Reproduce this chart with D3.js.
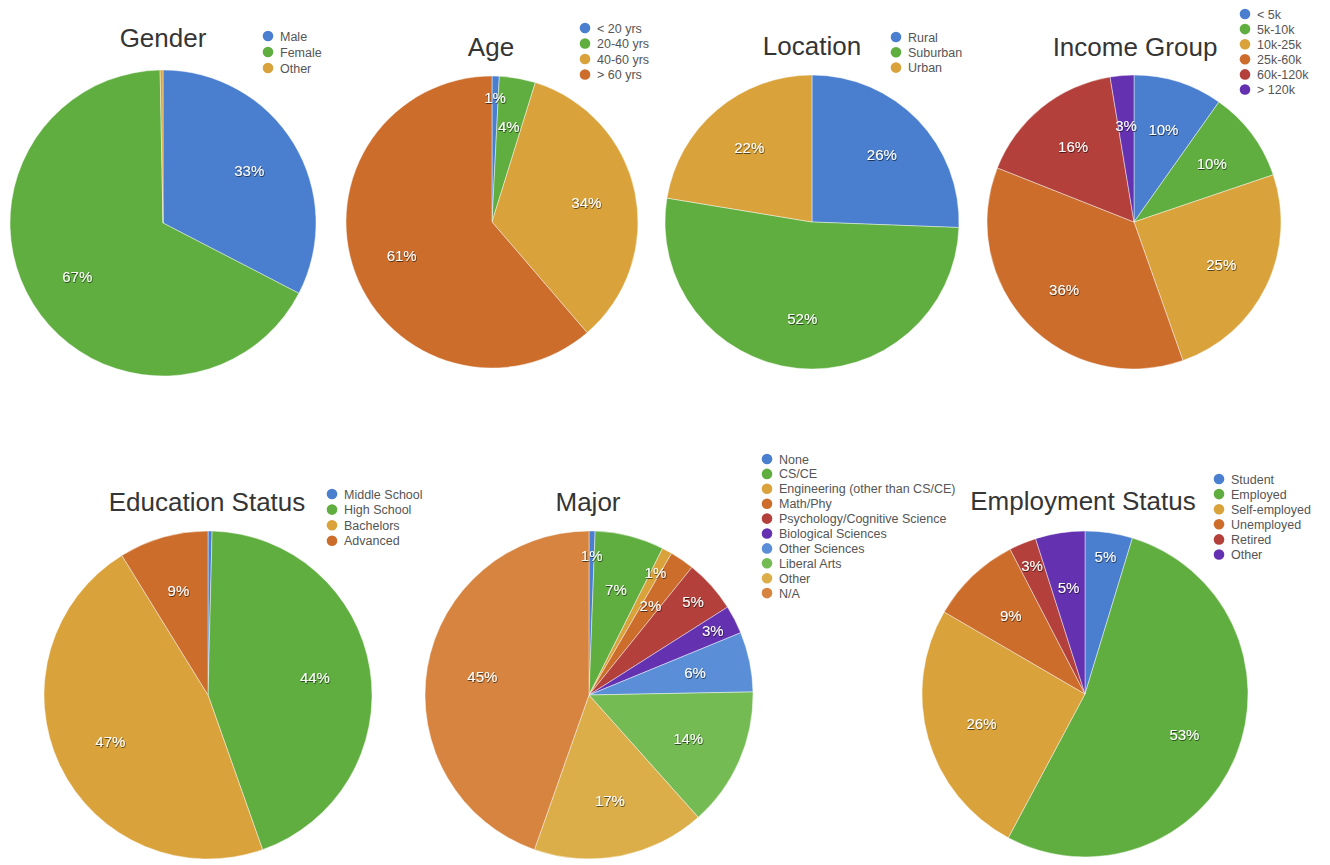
<!DOCTYPE html>
<html>
<head>
<meta charset="utf-8">
<script src="https://cdn.jsdelivr.net/npm/d3@7"></script>
<style>
  html, body { margin: 0; padding: 0; background: #fff; }
  svg { display: block; }
  .title { font-family: "Liberation Sans", Arial, Helvetica, sans-serif; font-size: 26px; fill: #353535; }
  .legend { font-family: "Liberation Sans", Arial, Helvetica, sans-serif; font-size: 12.5px; fill: #555; }
  .pct { font-family: "Liberation Sans", Arial, Helvetica, sans-serif; font-size: 15px; fill: #fff; }
</style>
</head>
<body>
<svg id="chart" width="1330" height="865"></svg>
<script>
// ---------- DATA ----------
const genderLabels = ["Male", "Female", "Other"];
const genderValues = [32.6, 67.1, 0.3];

const ageLabels = ["< 20 yrs", "20-40 yrs", "40-60 yrs", "> 60 yrs"];
const ageValues = [0.8, 4.0, 33.9, 61.3];

const locationLabels = ["Rural", "Suburban", "Urban"];
const locationValues = [25.6, 52.0, 22.4];

const incomeLabels = ["< 5k", "5k-10k", "10k-25k", "25k-60k", "60k-120k", "> 120k"];
const incomeValues = [9.8, 10.0, 24.8, 36.4, 16.4, 2.6];

const educationLabels = ["Middle School", "High School", "Bachelors", "Advanced"];
const educationValues = [0.4, 44.2, 46.6, 8.8];

const majorLabels = ["None", "CS/CE", "Engineering (other than CS/CE)", "Math/Phy",
  "Psychology/Cognitive Science", "Biological Sciences", "Other Sciences",
  "Liberal Arts", "Other", "N/A"];
const majorValues = [0.6, 6.8, 1.0, 2.4, 5.2, 2.8, 5.9, 13.7, 17.0, 44.6];

const employmentLabels = ["Student", "Employed", "Self-employed", "Unemployed", "Retired", "Other"];
const employmentValues = [4.7, 53.1, 25.6, 9.0, 2.7, 4.9];

// ---------- STYLE / LAYOUT ----------
const palette = ["#4a7ecf", "#5fae3f", "#d9a23a", "#cc6d2c", "#b3403a",
                 "#6432b0", "#5a8fd8", "#74bb53", "#dcae4a", "#d6843f"];

// slices whose percentage label sits further out (narrow slices)
const outerLabelSlices = {
  "Age": ["< 20 yrs"],
  "Major": ["None", "Engineering (other than CS/CE)", "Psychology/Cognitive Science", "Biological Sciences"],
  "Employment Status": ["Student", "Retired"]
};

const charts = [
  { title: "Gender", labels: genderLabels, values: genderValues,
    cx: 163, cy: 223, r: 153, tx: 163, ty: 47, lx: 268, ly: 36, ls: 16 },
  { title: "Age", labels: ageLabels, values: ageValues,
    cx: 492, cy: 222, r: 146, tx: 491, ty: 56, lx: 585, ly: 28, ls: 15.5 },
  { title: "Location", labels: locationLabels, values: locationValues,
    cx: 812, cy: 222, r: 147, tx: 812, ty: 55, lx: 896, ly: 37, ls: 15.3 },
  { title: "Income Group", labels: incomeLabels, values: incomeValues,
    cx: 1134, cy: 222, r: 147, tx: 1135, ty: 56, lx: 1245, ly: 14, ls: 15.1 },
  { title: "Education Status", labels: educationLabels, values: educationValues,
    cx: 208, cy: 695, r: 164, tx: 207, ty: 511, lx: 332, ly: 494, ls: 15.6 },
  { title: "Major", labels: majorLabels, values: majorValues,
    cx: 589, cy: 695, r: 164, tx: 588, ty: 511, lx: 767, ly: 459, ls: 14.9 },
  { title: "Employment Status", labels: employmentLabels, values: employmentValues,
    cx: 1085, cy: 694, r: 163, tx: 1083, ty: 510, lx: 1219, ly: 479, ls: 15.1 }
];

// ---------- DRAW ----------
const svg = d3.select("#chart");

const defs = svg.append("defs");
const f = defs.append("filter").attr("id", "shadow")
  .attr("x", "-20%").attr("y", "-20%").attr("width", "140%").attr("height", "140%");
f.append("feDropShadow").attr("dx", 0.6).attr("dy", 0.9)
  .attr("stdDeviation", 0.7).attr("flood-color", "#000").attr("flood-opacity", 0.65);

const pie = d3.pie().sort(null).value(d => d.value);

charts.forEach(c => {
  const data = c.labels.map((l, i) => ({ label: l, value: c.values[i] }));
  const color = d3.scaleOrdinal().domain(c.labels).range(palette);
  const total = d3.sum(c.values);
  const arcs = pie(data);
  const arc = d3.arc().innerRadius(0).outerRadius(c.r);
  const outer = outerLabelSlices[c.title] || [];

  const g = svg.append("g").attr("transform", `translate(${c.cx},${c.cy})`);

  g.selectAll("path.slice").data(arcs).join("path")
    .attr("class", "slice")
    .attr("d", arc)
    .attr("fill", d => color(d.data.label))
    .attr("stroke", "rgba(255,255,255,0.55)")
    .attr("stroke-width", 0.8);

  const labelled = arcs.filter(d => Math.round(d.data.value / total * 100) >= 1);
  g.selectAll("text.pct").data(labelled).join("text")
    .attr("class", "pct")
    .attr("filter", "url(#shadow)")
    .attr("text-anchor", "middle")
    .attr("dy", "0.35em")
    .attr("transform", d => {
      const k = outer.includes(d.data.label) ? 0.85 : 0.66;
      const a = (d.startAngle + d.endAngle) / 2;
      const lr = c.r * k;
      return `translate(${Math.sin(a) * lr},${-Math.cos(a) * lr})`;
    })
    .text(d => Math.round(d.data.value / total * 100) + "%");

  svg.append("text").attr("class", "title")
    .attr("x", c.tx).attr("y", c.ty).attr("text-anchor", "middle")
    .text(c.title);

  const lg = svg.append("g").attr("transform", `translate(${c.lx},${c.ly})`);
  const item = lg.selectAll("g").data(c.labels).join("g")
    .attr("transform", (d, i) => `translate(0,${i * c.ls})`);
  item.append("circle").attr("r", 5.3).attr("fill", d => color(d));
  item.append("text").attr("class", "legend")
    .attr("x", 12).attr("dy", "0.36em").text(d => d);
});
</script>
</body>
</html>
